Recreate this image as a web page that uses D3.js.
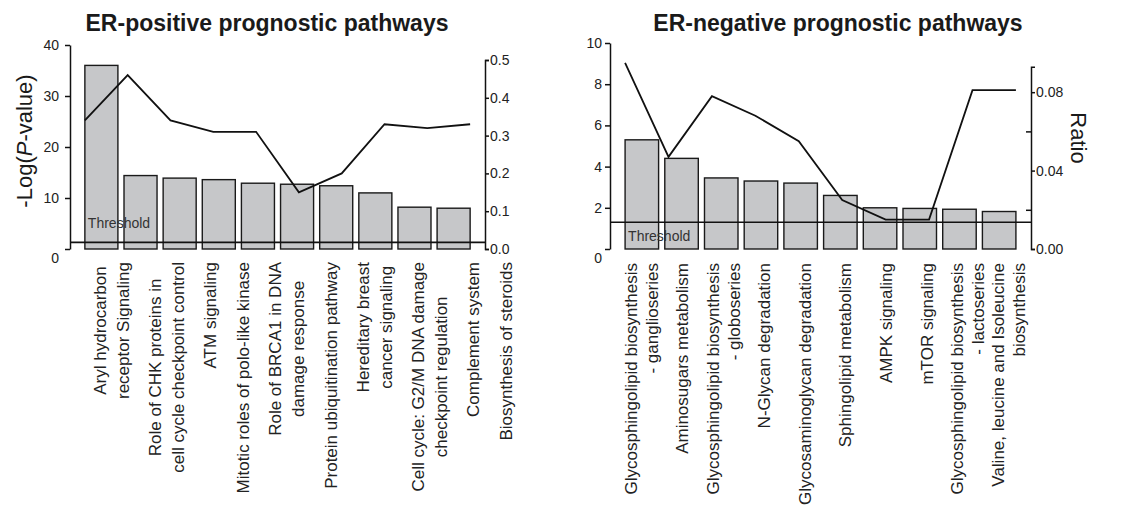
<!DOCTYPE html>
<html>
<head>
<meta charset="utf-8">
<script src="https://cdn.jsdelivr.net/npm/d3@7"></script>
<style>
  body { margin: 0; background: #fff; }
  svg { font-family: Arial, "Liberation Sans", sans-serif; }
</style>
</head>
<body>
<div id="chart"></div>
<script>
// ER-positive panel
const posCats = ['aryl', 'chk', 'atm', 'polo', 'brca1', 'ubiq', 'hered', 'g2m', 'compl', 'steroids'];
const posLabels = [
  ['Aryl hydrocarbon', 'receptor Signaling'],
  ['Role of CHK proteins in', 'cell cycle checkpoint control'],
  ['ATM signaling'],
  ['Mitotic roles of polo-like kinase'],
  ['Role of BRCA1 in DNA', 'damage response'],
  ['Protein ubiquitination pathway'],
  ['Hereditary breast', 'cancer signaling'],
  ['Cell cycle: G2/M DNA damage', 'checkpoint regulation'],
  ['Complement system'],
  ['Biosynthesis of steroids']
];
const posLogP  = [36.0, 14.4, 13.9, 13.6, 12.9, 12.7, 12.4, 11.0, 8.2, 8.0];
const posRatio = [0.34, 0.46, 0.34, 0.31, 0.31, 0.15, 0.20, 0.33, 0.32, 0.33];
const posYTicks = [0, 10, 20, 30, 40];
const posRTicks = [0, 0.1, 0.2, 0.3, 0.4, 0.5];

// ER-negative panel
const negCats = ['gsl_gang', 'aminosug', 'gsl_glob', 'nglycan', 'gag', 'sphingo', 'ampk', 'mtor', 'gsl_lacto', 'vli'];
const negLabels = [
  ['Glycosphingolipid biosynthesis', '- ganglioseries'],
  ['Aminosugars metabolism'],
  ['Glycosphingolipid biosynthesis', '- globoseries'],
  ['N-Glycan degradation'],
  ['Glycosaminoglycan degradation'],
  ['Sphingolipid metabolism'],
  ['AMPK signaling'],
  ['mTOR signaling'],
  ['Glycosphingolipid biosynthesis', '- lactoseries'],
  ['Valine, leucine and Isoleucine', 'biosynthesis']
];
const negLogP  = [5.3, 4.4, 3.45, 3.3, 3.2, 2.6, 2.0, 1.97, 1.93, 1.82];
const negRatio = [0.095, 0.047, 0.078, 0.068, 0.055, 0.025, 0.015, 0.015, 0.081, 0.081];
const negYTicks = [0, 2, 4, 6, 8, 10];
const negRTicks = [0, 0.04, 0.08];
const negRMinor = [0.02, 0.06];

const threshold = 1.3; // -log10(0.05)

const W = 1143, H = 515;
const svg = d3.select('#chart').append('svg').attr('width', W).attr('height', H);

function drawPanel(o) {
  const x = d3.scaleBand().domain(o.cats).range([o.x0, o.x1]).paddingInner(0.156).paddingOuter(0.38);
  const y = d3.scaleLinear().domain([0, o.yMax]).range([249, o.yTop]);
  const r = d3.scaleLinear().domain([0, o.rMax]).range([249, o.rTop]);
  // ratio line runs from the left edge of the first bar to the right edge of the last
  const xl = d3.scalePoint().domain(o.cats)
    .range([x(o.cats[0]), x(o.cats[o.cats.length - 1]) + x.bandwidth()]);

  // title
  svg.append('text').attr('x', o.titleX).attr('y', 31)
    .attr('text-anchor', 'middle').attr('font-size', '23px').attr('font-weight', 'bold')
    .attr('fill', '#1a1a1a').text(o.title);

  // bars
  svg.append('g').selectAll('rect').data(o.logP).join('rect')
    .attr('x', (d, i) => x(o.cats[i])).attr('width', x.bandwidth())
    .attr('y', d => y(d)).attr('height', d => y(0) - y(d))
    .attr('fill', '#c6c7c9').attr('stroke', '#1a1a1a').attr('stroke-width', 1.4);

  // threshold
  svg.append('line').attr('x1', o.x0).attr('x2', o.x1)
    .attr('y1', y(threshold)).attr('y2', y(threshold))
    .attr('stroke', '#111').attr('stroke-width', 1.6);
  svg.append('text').attr('x', x(o.cats[0]) + 3).attr('y', y(threshold) + o.thrDy)
    .attr('font-size', '14px').attr('fill', '#333').text('Threshold');

  // ratio line
  svg.append('path').datum(o.ratio)
    .attr('d', d3.line().x((d, i) => xl(o.cats[i])).y(d => r(d)))
    .attr('fill', 'none').attr('stroke', '#111').attr('stroke-width', 1.8);

  // left axis
  const ga = svg.append('g').attr('transform', `translate(${o.x0},0)`)
    .call(d3.axisLeft(y).tickValues(o.yTicks).tickSize(5).tickPadding(o.yPad).tickSizeOuter(0));
  ga.selectAll('text').attr('font-size', '14px').attr('fill', '#222')
    .attr('dy', d => d === 0 ? '0.95em' : '0.32em');

  // right axis
  const gr = svg.append('g').attr('transform', `translate(${o.x1},0)`)
    .call(d3.axisRight(r).tickValues(o.rTicks).tickSize(4).tickPadding(1).tickSizeOuter(4)
      .tickFormat(d3.format(o.rFmt)));
  gr.selectAll('text').attr('font-size', '14px').attr('fill', '#222');
  if (o.rMinor) {
    svg.append('g').attr('transform', `translate(${o.x1},0)`)
      .call(d3.axisLeft(r).tickValues(o.rMinor).tickSize(5).tickFormat(''))
      .call(g => g.select('.domain').remove());
  }
  svg.selectAll('.domain, .tick line').attr('stroke', '#111').attr('stroke-width', 1.5);

  // category labels, rotated. The left panel stacks them line after line
  // (they drift right of their bars), the right panel centres them on the bars.
  const lineH = o.stack ? o.stack.lineH : 21;
  let pos = o.stack ? o.stack.start : 0;
  o.labels.forEach((lines, i) => {
    let cx;
    if (o.stack) {
      cx = pos + (lines.length - 1) * lineH / 2;
      pos += (lines.length - 1) * lineH + o.stack.gap;
    } else {
      cx = x(o.cats[i]) + x.bandwidth() / 2 + o.shift * i;
    }
    const g = svg.append('g').attr('transform', `translate(${cx},262) rotate(-90)`);
    const texts = lines.map((ln, j) => g.append('text')
      .attr('y', (j - (lines.length - 1) / 2) * lineH).attr('dy', '0.35em')
      .attr('font-size', '17px').attr('fill', '#222').text(ln));
    const maxLen = d3.max(texts, t => t.node().getComputedTextLength());
    texts.forEach(t => {
      if (o.center) t.attr('text-anchor', 'middle').attr('x', -maxLen / 2);
      else t.attr('text-anchor', 'end').attr('x', -1);
    });
  });
}

drawPanel({
  title: 'ER-positive prognostic pathways', titleX: 267,
  cats: posCats, labels: posLabels, logP: posLogP, ratio: posRatio,
  x0: 70, x1: 485, yMax: 40, yTop: 45, rMax: 0.5, rTop: 60,
  yTicks: posYTicks, rTicks: posRTicks, rFmt: '.1f', yPad: 6,
  thrDy: -14, center: true, stack: { start: 100, lineH: 22.7, gap: 32.5 }
});

drawPanel({
  title: 'ER-negative prognostic pathways', titleX: 838,
  cats: negCats, labels: negLabels, logP: negLogP, ratio: negRatio,
  x0: 610, x1: 1031, yMax: 10, yTop: 43, rMax: 0.093, rTop: 66.7,
  yTicks: negYTicks, rTicks: negRTicks, rMinor: negRMinor, rFmt: '.2f', yPad: 3,
  thrDy: 19, center: false, shift: 1
});

// axis titles
const yl = svg.append('text').attr('transform', 'translate(32,141) rotate(-90)')
  .attr('text-anchor', 'middle').attr('font-size', '22px').attr('fill', '#1a1a1a');
yl.append('tspan').text('-Log(');
yl.append('tspan').attr('font-style', 'italic').text('P');
yl.append('tspan').text('-value)');

svg.append('text').attr('transform', 'translate(1071,138) rotate(90)')
  .attr('text-anchor', 'middle').attr('font-size', '22px').attr('fill', '#1a1a1a').text('Ratio');
</script>
</body>
</html>
